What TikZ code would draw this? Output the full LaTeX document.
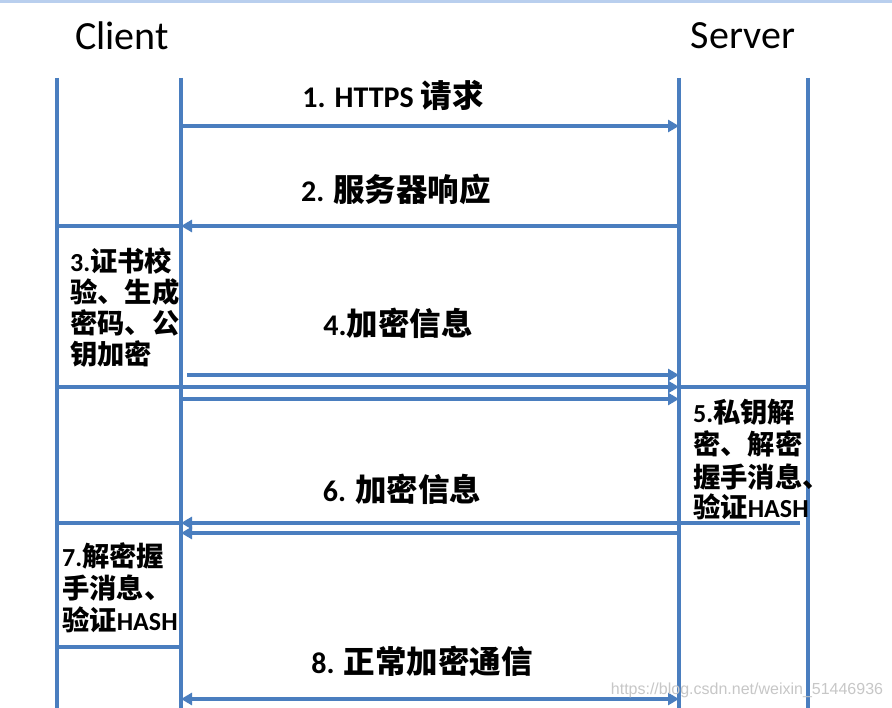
\documentclass[tikz,border=0pt]{standalone}
\usepackage{fontspec}
\setmainfont{Carlito}
\newfontfamily\cjk{Noto Sans CJK SC}[Scale=1.05]
\newfontfamily\wmfont{Liberation Sans}
\usetikzlibrary{arrows.meta}
\definecolor{lineblue}{HTML}{4A7EBF}
\definecolor{topband}{HTML}{B9CFEE}
\newcommand\zh[1]{{\cjk #1}}
\begin{document}
\begin{tikzpicture}[x=1pt,y=-1pt,
  ln/.style={draw=lineblue, line width=3.5pt},
  arr/.style={ln, -{Triangle[length=11pt,width=12pt]}},
  darr/.style={ln, {Triangle[length=11pt,width=12pt]}-{Triangle[length=11pt,width=12pt]}},
  big/.style={font=\fontsize{30}{36}\selectfont\bfseries, inner sep=0},
  boxt/.style={font=\fontsize{26}{31}\selectfont\bfseries, inner sep=0, anchor=base west},
  hd/.style={font=\fontsize{40}{48}\selectfont, inner sep=0},
  wm/.style={font=\wmfont\fontsize{16}{19}\selectfont, text=black!22, inner sep=0}]
\useasboundingbox (0,0) rectangle (892,708);
\fill[white] (0,0) rectangle (892,708);
\fill[topband] (0,0) rectangle (892,3);

% headers
\node[hd] (client) at (122,36) {Client};
\node[hd] (server) at (743,36) {Server};

% lifelines
\coordinate (l1t) at (57,78);  \coordinate (l1b) at (57,708);
\coordinate (l2t) at (181,78); \coordinate (l2b) at (181,708);
\coordinate (l3t) at (679,78); \coordinate (l3b) at (679,708);
\coordinate (l4t) at (808,78); \coordinate (l4b) at (808,708);
\draw[ln] (l1t) -- (l1b);
\draw[ln] (l2t) -- (l2b);
\draw[ln] (l3t) -- (l3b);
\draw[ln] (l4t) -- (l4b);

% 1
\coordinate (a1s) at (181,126); \coordinate (a1e) at (679,126);
\draw[arr] (a1s) -- (a1e);
\node[big] (t1) at (393,95) {1. HTTPS \zh{请求}};

% 2
\coordinate (a2s) at (679,226); \coordinate (a2e) at (181,226);
\coordinate (b3tl) at (57,226);
\draw[arr] (a2s) -- (a2e);
\draw[ln] (b3tl) -- (a2e);
\node[big] (t2) at (396,189) {2. \zh{服务器响应}};

% box 3
\node[boxt] (t3a) at (70,272) {3.\zh{证书校}};
\node[boxt] (t3b) at (70,303) {\zh{验、生成}};
\node[boxt] (t3c) at (70,334) {\zh{密码、公}};
\node[boxt] (t3d) at (70,365) {\zh{钥加密}};

% 4
\coordinate (a4as) at (187,375); \coordinate (a4ae) at (679,375);
\coordinate (a4bs) at (57,387);  \coordinate (a4be) at (679,387);
\coordinate (a4cs) at (181,399); \coordinate (a4ce) at (679,399);
\draw[arr] (a4as) -- (a4ae);
\draw[arr] (a4bs) -- (a4be);
\draw[arr] (a4cs) -- (a4ce);
\coordinate (b5tr) at (808,387);
\draw[ln] (a4be) -- (b5tr);
\node[big] (t4) at (398,323) {4.\zh{加密信息}};

% box 5
\node[boxt] (t5a) at (693,423) {5.\zh{私钥解}};
\node[boxt] (t5b) at (693,455) {\zh{密、解密}};
\node[boxt] (t5c) at (693,487) {\zh{握手消息、}};
\node[boxt] (t5d) at (693,518) {\zh{验证}HASH};

% 6
\coordinate (a6as) at (800,523); \coordinate (a6ae) at (181,523);
\coordinate (b7tl) at (57,523);
\draw[arr] (a6as) -- (a6ae);
\draw[ln] (b7tl) -- (a6ae);
\coordinate (a6bs) at (679,533); \coordinate (a6be) at (181,533);
\draw[arr] (a6bs) -- (a6be);
\node[big] (t6) at (402,489) {6. \zh{加密信息}};

% box 7
\node[boxt] (t7a) at (62,566) {7.\zh{解密握}};
\node[boxt] (t7b) at (62,598) {\zh{手消息、}};
\node[boxt] (t7c) at (62,630) {\zh{验证}HASH};
\coordinate (b7bl) at (57,647); \coordinate (b7br) at (181,647);
\draw[ln] (b7bl) -- (b7br);

% 8
\coordinate (a8s) at (181,699); \coordinate (a8e) at (679,699);
\draw[darr] (a8s) -- (a8e);
\node[big] (t8) at (422,661) {8. \zh{正常加密通信}};

% watermark
\node[wm] (wmk) at (747,690) {https://blog.csdn.net/weixin\_51446936};
\end{tikzpicture}
\end{document}
